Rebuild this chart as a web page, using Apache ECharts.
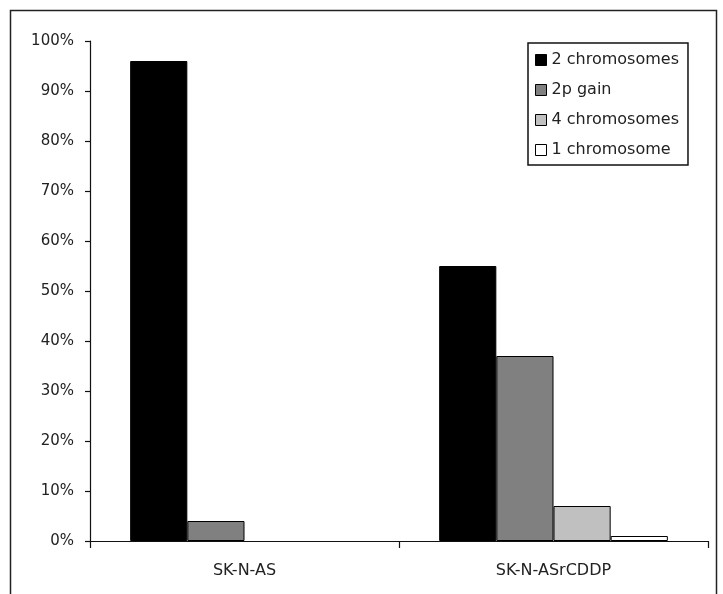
<!DOCTYPE html>
<html>
<head>
<meta charset="utf-8">
<script src="https://cdn.jsdelivr.net/npm/echarts@6/dist/echarts.min.js"></script>
<style>
  html, body { margin: 0; padding: 0; background: #fff; }
  #chart { width: 723px; height: 594px; }
</style>
</head>
<body>
<div id="chart"></div>
<script>
// Cell lines on the x axis
const categories = ['SK-N-AS', 'SK-N-ASrCDDP'];

// Percentage of cells per chromosome 2 status
const twoChromosomes = [96, 55];
const gain2p = [4, 37];
const fourChromosomes = [0, 7];
const oneChromosome = [0, 1];

const seriesNames = ['2 chromosomes', '2p gain', '4 chromosomes', '1 chromosome'];
const seriesValues = [twoChromosomes, gain2p, fourChromosomes, oneChromosome];
const seriesColors = ['#000000', '#808080', '#c0c0c0', '#ffffff'];

const FONT = 'DejaVu Sans';
const TEXT = '#222';

// zero-height bars get no outline so nothing is drawn for them
const toBarData = values => values.map(v => v === 0
  ? { value: 0, itemStyle: { borderWidth: 0 } }
  : v);

const chart = echarts.init(document.getElementById('chart'), null, { renderer: 'canvas' });

chart.setOption({
  animation: false,
  backgroundColor: '#fff',
  textStyle: { fontFamily: FONT, color: TEXT },
  grid: { left: 90, right: 15, top: 41, bottom: 53, containLabel: false },
  graphic: [{
    type: 'rect',
    shape: { x: 10.5, y: 10.5, width: 706, height: 620 },
    style: { fill: 'none', stroke: '#222', lineWidth: 1.5 },
    silent: true,
    z: -1
  }],
  legend: {
    orient: 'vertical',
    left: 528,
    top: 43,
    padding: [9, 9, 7, 7],
    itemGap: 14,
    itemWidth: 11,
    itemHeight: 11,
    itemTextGap: 4,
    icon: 'rect',
    borderColor: '#111',
    borderWidth: 1.5,
    backgroundColor: '#fff',
    itemStyle: { borderColor: '#000', borderWidth: 1 },
    textStyle: { fontFamily: FONT, fontSize: 16, color: TEXT },
    data: seriesNames
  },
  xAxis: {
    type: 'category',
    data: categories,
    boundaryGap: true,
    axisLine: { lineStyle: { color: '#111', width: 1.2 } },
    axisTick: { show: true, length: 7, alignWithLabel: false, lineStyle: { color: '#111', width: 1.2 } },
    axisLabel: { fontFamily: FONT, fontSize: 16, color: TEXT, margin: 22 },
    splitLine: { show: false }
  },
  yAxis: {
    type: 'value',
    min: 0,
    max: 100,
    interval: 10,
    axisLine: { show: true, lineStyle: { color: '#111', width: 1.2 } },
    axisTick: { show: true, length: 5, lineStyle: { color: '#111', width: 1.2 } },
    axisLabel: { fontFamily: FONT, fontSize: 15, color: TEXT, margin: 16, formatter: '{value}%' },
    splitLine: { show: false }
  },
  series: seriesNames.map((name, i) => ({
    name: name,
    type: 'bar',
    data: toBarData(seriesValues[i]),
    barGap: '0%',
    barCategoryGap: '26%',
    itemStyle: { color: seriesColors[i], borderColor: '#000', borderWidth: 1 }
  }))
});
</script>
</body>
</html>
